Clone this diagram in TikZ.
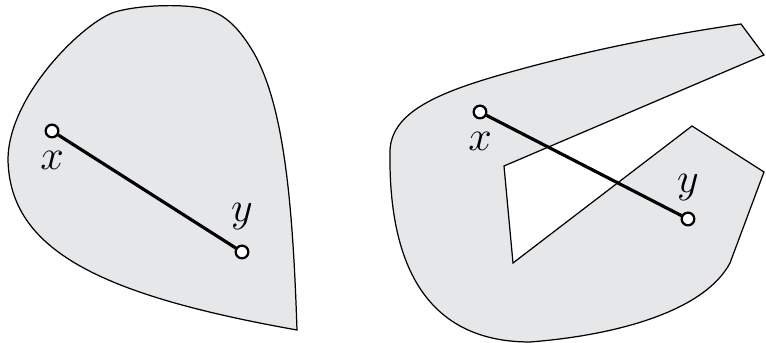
\documentclass[tikz,border=0pt]{standalone}
\usetikzlibrary{positioning}
\definecolor{regiongray}{RGB}{230,231,233}
\tikzset{
  region/.style={fill=regiongray, draw=black, line width=0.35pt},
  seg/.style={line width=0.9pt},
  pt/.style={circle, draw, fill=white, line width=0.65pt, inner sep=0pt, minimum size=3.6pt},
  lbl/.style={inner sep=0pt, font=\fontsize{13}{15}\selectfont}
}
\begin{document}
\begin{tikzpicture}[x=0.01cm, y=-0.01cm]
            \useasboundingbox (0,0) rectangle (766,343);
            \draw[region] (297,330) .. controls (293,210) and (285,110) .. (255,55)
              .. controls (235,20) and (218,10) .. (195,7)
              .. controls (170,4) and (135,6) .. (115,12)
              .. controls (85,21) and (8,95) .. (8,160)
              .. controls (10,250) and (100,295) .. cycle;
            \draw[region] (741,24) -- (764,55) -- (504,166) -- (513,263) -- (692,126) -- (764,172) -- (730,263)
              .. controls (705,310) and (620,335) .. (530,342)
              .. controls (430,342) and (388,270) .. (390,150)
              .. controls (392,115) and (430,95) .. (500,75)
              .. controls (580,52) and (660,36) .. cycle;
            \node[pt] (x1) at (52,131) {};
            \node[pt] (y1) at (242,252) {};
            \node[pt] (x2) at (480,112) {};
            \node[pt] (y2) at (688,219) {};
            \draw[seg] (x1) -- (y1);
            \draw[seg] (x2) -- (y2);
            \node[lbl, below=3.5pt of x1] (lx1) {$x$};
            \node[lbl, above=4pt of y1] (ly1) {$y$};
            \node[lbl, below=3.5pt of x2] (lx2) {$x$};
            \node[lbl, above=3pt of y2] (ly2) {$y$};
          \end{tikzpicture}
\end{document}
